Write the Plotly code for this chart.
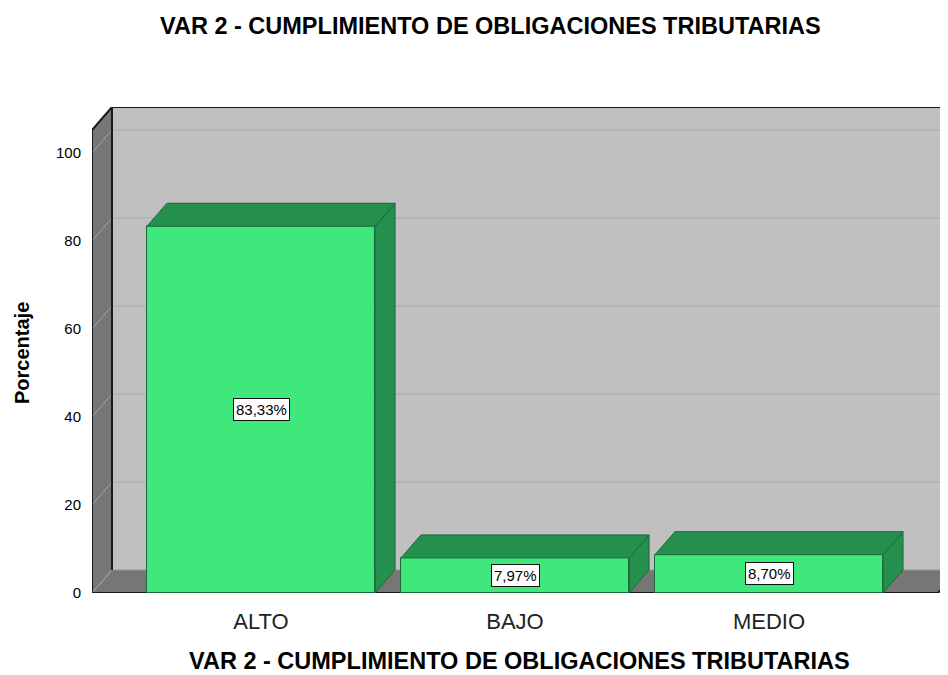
import plotly.graph_objects as go

# ---------------- data ----------------
categories = ["ALTO", "BAJO", "MEDIO"]
percentages = [83.33, 7.97, 8.70]
value_labels = ["83,33%", "7,97%", "8,70%"]
y_ticks = [0, 20, 40, 60, 80, 100]
chart_title = "VAR 2 - CUMPLIMIENTO DE OBLIGACIONES TRIBUTARIAS"
x_title = "VAR 2 - CUMPLIMIENTO DE OBLIGACIONES TRIBUTARIAS"
y_title = "Porcentaje"

# ---------------- geometry / style ----------------
BAR_W = 0.898          # bar width in category units
DX = 0.0787            # 3D depth offset (x, category units)
DY = 5.23              # 3D depth offset (y, value units)
X0, X1 = -0.6654, 2.6654   # front plane extent
XMAX = 2.7047
WALL_TOP = 105.2
YMAX = WALL_TOP + DY

FONT = "Liberation Sans, Arial, sans-serif"
FRONT = "#40E87C"
SIDE = "#258F4E"
EDGE = "#1B6B3A"
WALL = "#C0C0C0"
DARK = "#767676"

OFF = 8  # page body margin of the html page
FIG_W, FIG_H = 948 - OFF, 675 - OFF
PLOT_L, PLOT_T, PLOT_B = 92 - OFF, 107 - OFF, 593 - OFF
PW, PH = FIG_W - PLOT_L, PLOT_B - PLOT_T

x_pos = list(range(len(categories)))


def path(pts):
    return "M " + " L ".join(f"{x},{y}" for x, y in pts) + " Z"


def open_path(pts):
    return "M " + " L ".join(f"{x},{y}" for x, y in pts)


shapes = []
# back wall
shapes.append(dict(type="path", xref="x", yref="y", layer="below",
                   path=path([(X0 + DX, DY), (X0 + DX, YMAX), (XMAX + 1, YMAX), (XMAX + 1, DY)]),
                   fillcolor=WALL, line=dict(width=0)))
# floor
shapes.append(dict(type="path", xref="x", yref="y", layer="below",
                   path=path([(X0, 0), (X1, 0), (X1 + DX, DY), (X0 + DX, DY)]),
                   fillcolor=DARK, line=dict(width=0)))
# left side wall
shapes.append(dict(type="path", xref="x", yref="y", layer="below",
                   path=path([(X0, 0), (X0, WALL_TOP), (X0 + DX, YMAX), (X0 + DX, DY)]),
                   fillcolor=DARK, line=dict(width=0)))
# gridlines on back wall and side wall
for t in y_ticks:
    if t > 0:
        shapes.append(dict(type="line", xref="x", yref="y", layer="below",
                           x0=X0 + DX, x1=XMAX + 1, y0=t + DY, y1=t + DY,
                           line=dict(color="#B2B2B2", width=1.5)))
    shapes.append(dict(type="line", xref="x", yref="y", layer="below",
                       x0=X0, x1=X0 + DX, y0=t, y1=t + DY,
                       line=dict(color="#A6A6A6", width=1)))
# floor back edge (wall bottom)
shapes.append(dict(type="line", xref="x", yref="y", layer="below",
                   x0=X0 + DX, x1=XMAX + 1, y0=DY, y1=DY,
                   line=dict(color="#9A9A9A", width=1)))
# wall edges (dark)
shapes.append(dict(type="path", xref="x", yref="y", layer="below",
                   path=open_path([(X0 + DX, DY), (X0 + DX, YMAX)]),
                   line=dict(color="#1A1A1A", width=2)))
shapes.append(dict(type="path", xref="x", yref="y", layer="below",
                   path=open_path([(X0, 0), (X0, WALL_TOP), (X0 + DX, YMAX), (XMAX + 1, YMAX)]),
                   line=dict(color="#1A1A1A", width=2)))
shapes.append(dict(type="path", xref="x", yref="y", layer="below",
                   path=open_path([(X0, 0), (X1, 0), (X1 + DX, DY)]),
                   line=dict(color="#1A1A1A", width=2)))

# 3D top and side faces of bars
for xc, v in zip(x_pos, percentages):
    l, r = xc - BAR_W / 2, xc + BAR_W / 2
    shapes.append(dict(type="path", xref="x", yref="y", layer="above",
                       path=path([(r, 0), (r, v), (r + DX, v + DY), (r + DX, DY)]),
                       fillcolor=SIDE, line=dict(color=EDGE, width=1)))
    shapes.append(dict(type="path", xref="x", yref="y", layer="above",
                       path=path([(l, v), (l + DX, v + DY), (r + DX, v + DY), (r, v)]),
                       fillcolor=SIDE, line=dict(color=EDGE, width=1)))

fig = go.Figure()
fig.add_trace(go.Bar(
    x=x_pos, y=percentages, width=BAR_W,
    marker=dict(color=FRONT, line=dict(color=EDGE, width=1)),
    hoverinfo="skip", showlegend=False,
))

annotations = []
for xc, v, lab in zip(x_pos, percentages, value_labels):
    annotations.append(dict(x=xc, y=v / 2, xref="x", yref="y", text=lab,
                            showarrow=False, bgcolor="white", bordercolor="#111",
                            borderwidth=1, borderpad=2,
                            font=dict(family=FONT, size=15, color="black")))

annotations.append(dict(text=f"<b>{chart_title}</b>", xref="paper", yref="paper",
                        x=(490 - OFF - PLOT_L) / PW, y=(PLOT_B - (26 - OFF)) / PH,
                        xanchor="center", yanchor="middle", showarrow=False,
                        font=dict(family=FONT, size=23.5, color="black")))
annotations.append(dict(text=f"<b>{x_title}</b>", xref="paper", yref="paper",
                        x=(519 - OFF - PLOT_L) / PW, y=(PLOT_B - (661 - OFF)) / PH,
                        xanchor="center", yanchor="middle", showarrow=False,
                        font=dict(family=FONT, size=23.5, color="black")))
annotations.append(dict(text=f"<b>{y_title}</b>", xref="paper", yref="paper",
                        x=(22 - OFF - PLOT_L) / PW, y=(PLOT_B - (353 - OFF)) / PH, textangle=-90,
                        xanchor="center", yanchor="middle", showarrow=False,
                        font=dict(family=FONT, size=20, color="black")))

fig.update_layout(
    width=FIG_W, height=FIG_H,
    margin=dict(l=PLOT_L, r=0, t=PLOT_T, b=FIG_H - PLOT_B),
    paper_bgcolor="white", plot_bgcolor="white",
    shapes=shapes, annotations=annotations,
    bargap=0,
    xaxis=dict(range=[X0, XMAX], tickvals=x_pos, ticktext=categories,
               showgrid=False, zeroline=False, showline=False,
               ticks="outside", ticklen=9, tickcolor="rgba(0,0,0,0)",
               tickfont=dict(family=FONT, size=22, color="#222")),
    yaxis=dict(range=[0, YMAX], tickvals=y_ticks,
               showgrid=False, zeroline=False, showline=False,
               ticks="outside", ticklen=7, tickcolor="rgba(0,0,0,0)",
               tickfont=dict(family=FONT, size=15, color="black")),
)

fig.write_html("out.html")
